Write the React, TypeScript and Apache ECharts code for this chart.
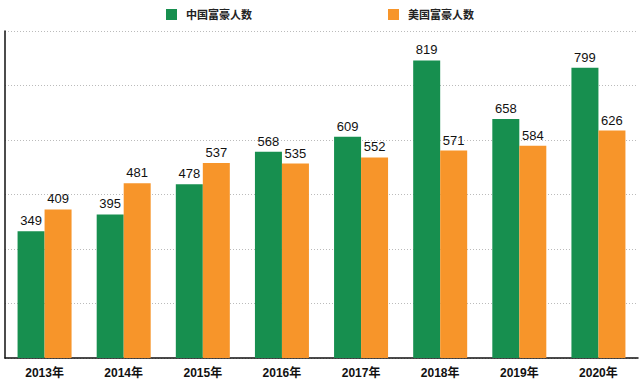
import React, { useEffect, useRef } from "react";
import * as echarts from "echarts";

const categories = ["2013年", "2014年", "2015年", "2016年", "2017年", "2018年", "2019年", "2020年"];
const chinaValues = [349, 395, 478, 568, 609, 819, 658, 799];
const usValues = [409, 481, 537, 535, 552, 571, 584, 626];
const seriesNames = ["中国富豪人数", "美国富豪人数"];

export default function App() {
  const ref = useRef<HTMLDivElement>(null);
  useEffect(() => {
    document.body.style.margin = "0";
    const chart = echarts.init(ref.current!, null, { renderer: "svg" });
    const font = "'Helvetica Neue', Arial, 'Liberation Sans', 'Noto Sans CJK SC', sans-serif";
    chart.setOption({
      animation: false,
      textStyle: { fontFamily: font },
      legend: {
        left: 161,
        top: 4,
        itemWidth: 11,
        itemHeight: 11,
        itemGap: 136,
        icon: "rect",
        textStyle: { fontSize: 11, fontWeight: "bold", color: "#222", fontFamily: font, padding: [0, 0, 0, 4] },
        data: seriesNames,
      },
      grid: { left: 5, right: 2, top: 31, bottom: 23, containLabel: false },
      xAxis: {
        type: "category",
        data: categories,
        axisLine: { lineStyle: { color: "#111", width: 1.5 } },
        axisTick: { show: false },
        axisLabel: { fontSize: 12, fontWeight: "bold", color: "#111", margin: 9 },
      },
      yAxis: {
        type: "value",
        min: 0,
        max: 900,
        interval: 150,
        axisLine: { show: true, lineStyle: { color: "#111", width: 1.5 } },
        axisTick: { show: false },
        axisLabel: { show: false },
        splitLine: { lineStyle: { color: "#bbb", type: [1, 2], width: 1 } },
      },
      series: [
        {
          name: seriesNames[0],
          type: "bar",
          data: chinaValues,
          barWidth: 27,
          barGap: "0%",
          itemStyle: { color: "#178f4f" },
          label: { show: true, position: "top", fontSize: 13, color: "#111", distance: 4 },
        },
        {
          name: seriesNames[1],
          type: "bar",
          data: usValues,
          barWidth: 27,
          barGap: "0%",
          itemStyle: { color: "#f7952a" },
          label: { show: true, position: "top", fontSize: 13, color: "#111", distance: 4 },
        },
      ],
    });
    return () => chart.dispose();
  }, []);
  return <div ref={ref} style={{ width: 640, height: 381 }} />;
}
